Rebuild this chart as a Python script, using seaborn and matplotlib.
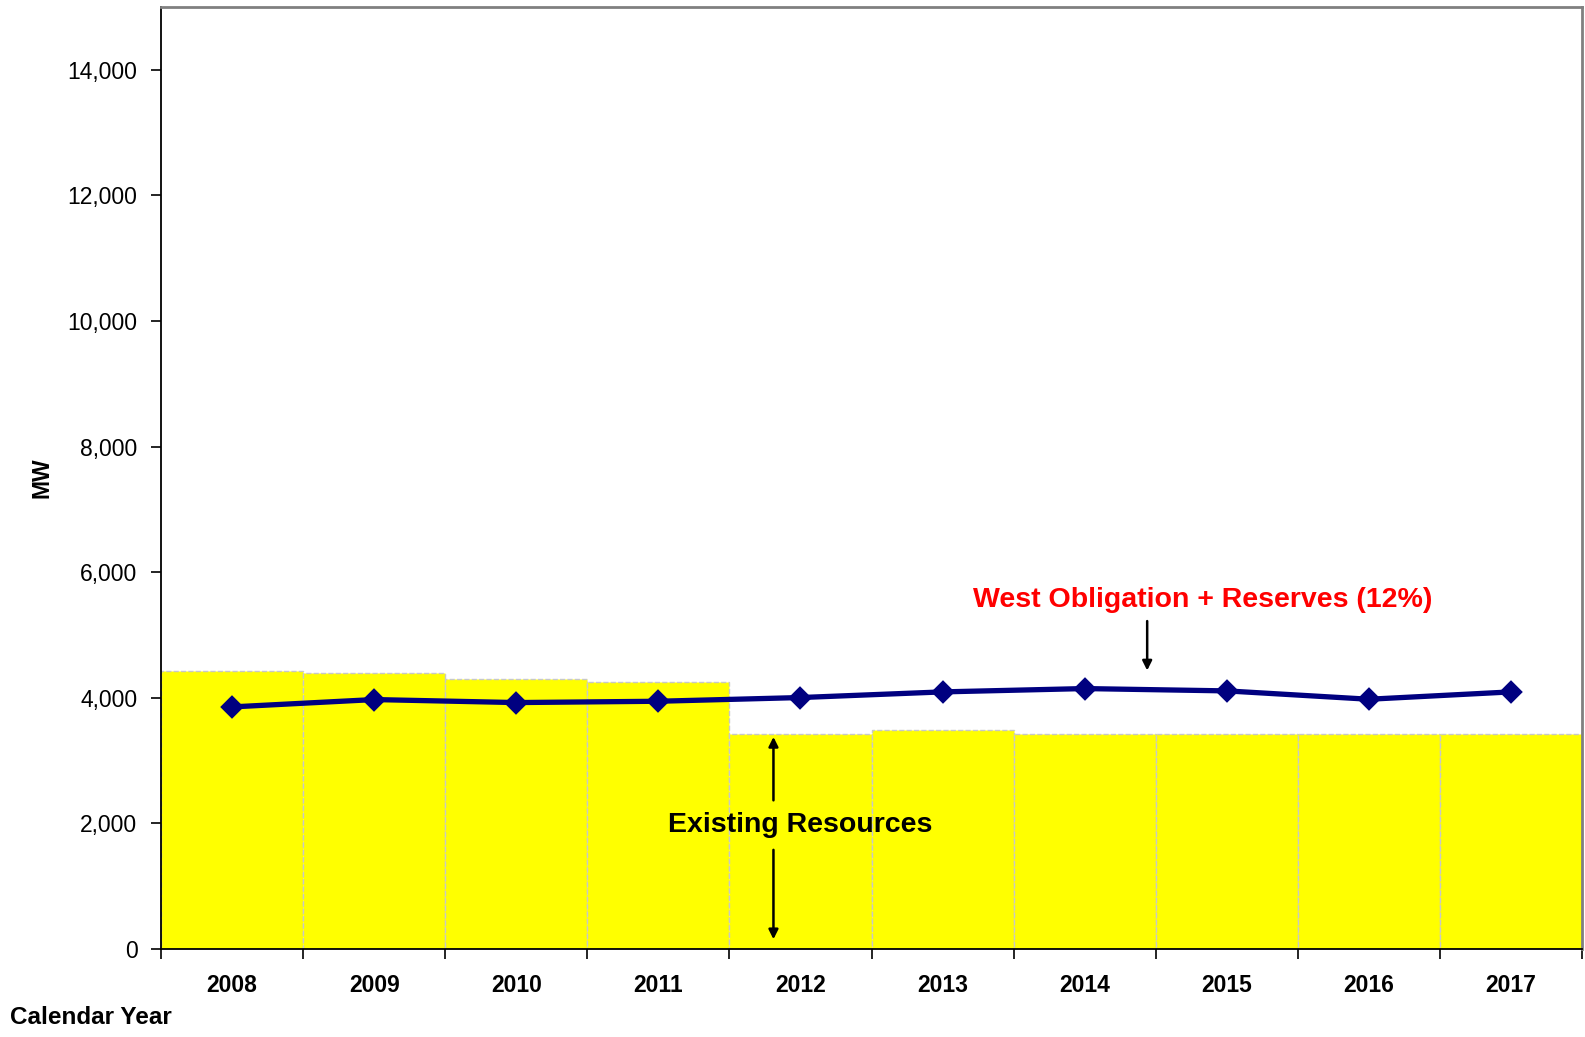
import matplotlib
matplotlib.use("Agg")
import matplotlib.pyplot as plt
import numpy as np
import pandas as pd
import seaborn as sns

sns.set_style("white")
plt.rcParams["font.family"] = ["Liberation Sans", "DejaVu Sans"]
plt.rcParams.update({"text.color": "black", "xtick.color": "black",
                     "ytick.color": "black", "axes.labelcolor": "black"})

# data (MW)
years = ["2008", "2009", "2010", "2011", "2012", "2013", "2014", "2015", "2016", "2017"]
existing_resources = [4423, 4402, 4307, 4253, 3431, 3495, 3431, 3431, 3431, 3431]
obligation_reserves = [3855, 3972, 3924, 3945, 4004, 4094, 4147, 4110, 3977, 4094]

df = pd.DataFrame({"year": years,
                   "existing": existing_resources,
                   "obligation": obligation_reserves})

fig = plt.figure(figsize=(15.85, 10.37), dpi=100)
ax = fig.add_axes([161 / 1585, 1 - 949 / 1037, (1582 - 161) / 1585, (949 - 7) / 1037])

sns.barplot(data=df, x="year", y="existing", ax=ax, width=1.0, color="#FFFF00",
            saturation=1, edgecolor="#C8C8C8", linewidth=1.0, linestyle="--")
sns.pointplot(data=df, x="year", y="obligation", ax=ax, color="#000080",
              markers="D", linestyles="-", markersize=9.5, linewidth=3.8)

ax.set_ylim(0, 15000)
ax.set_xlim(-0.5, len(years) - 0.5)
ax.set_yticks(np.arange(0, 15000, 2000))
ax.set_yticklabels([f"{v:,}" for v in range(0, 15000, 2000)], fontsize=16.5)
ax.tick_params(axis="y", direction="out", length=7, width=1.2, left=True, pad=10)

# major ticks at bar boundaries, labels at centres
ax.set_xticks(np.arange(-0.5, len(years), 1.0))
ax.set_xticklabels([])
ax.set_xticks(np.arange(len(years)), minor=True)
ax.set_xticklabels(years, minor=True, fontsize=16.5, fontweight="bold")
ax.tick_params(axis="x", which="major", direction="out", length=7, width=1.2, bottom=True)
ax.tick_params(axis="x", which="minor", length=0, pad=18)

ax.set_xlabel("")
ax.set_ylabel("")

for side in ["left", "bottom"]:
    ax.spines[side].set_color("black")
    ax.spines[side].set_linewidth(1.3)
for side in ["top", "right"]:
    ax.spines[side].set_color("#808080")
    ax.spines[side].set_linewidth(2)

# annotations
ax.text(6.83, 5553, "West Obligation + Reserves (12%)", color="#FF0000",
        fontsize=20.5, fontweight="bold", ha="center", va="center")
ax.annotate("", xy=(6.44, 4391), xytext=(6.44, 5266),
            arrowprops=dict(arrowstyle="-|>", color="black", lw=1.8, mutation_scale=14))

ax.text(4.0, 1973, "Existing Resources", color="black",
        fontsize=20.5, fontweight="bold", ha="center", va="center")
ax.annotate("", xy=(3.81, 3421), xytext=(3.81, 2323),
            arrowprops=dict(arrowstyle="-|>", color="black", lw=1.8, mutation_scale=14))
ax.annotate("", xy=(3.81, 111), xytext=(3.81, 1623),
            arrowprops=dict(arrowstyle="-|>", color="black", lw=1.8, mutation_scale=14))

fig.text(42 / 1585, 1 - 478 / 1037, "MW", rotation=90, fontsize=16.5,
         fontweight="bold", ha="center", va="center")
fig.text(10 / 1585, 1 - 1018 / 1037, "Calendar Year", fontsize=17.5,
         fontweight="bold", ha="left", va="center")

fig.savefig("out.png", dpi=100)
